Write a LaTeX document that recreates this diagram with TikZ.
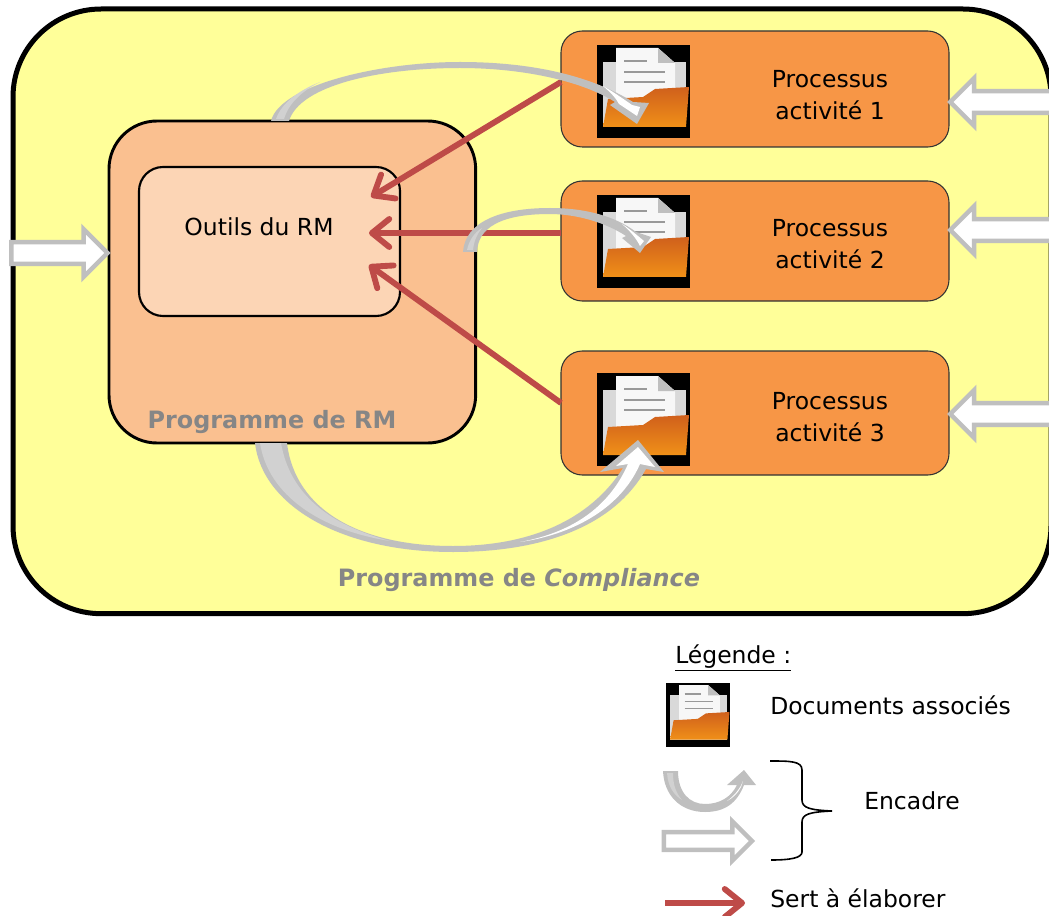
\documentclass[tikz,border=0pt]{standalone}
\usepackage{fontspec}
\setmainfont{DejaVu Sans}
\usepackage{tikz}
\usetikzlibrary{arrows.meta,shapes.arrows}

\definecolor{RMgray}{HTML}{BFBFBF}
\definecolor{RMred}{HTML}{BE4B48}
\definecolor{RMtext}{HTML}{868686}
\definecolor{RMyellow}{HTML}{FFFF99}
\definecolor{progfill}{HTML}{FAC090}
\definecolor{toolfill}{HTML}{FCD5B5}
\definecolor{procorange}{HTML}{F79646}
\definecolor{procfold}{HTML}{D0601C}
\definecolor{procfoldb}{HTML}{F09018}

\tikzset{
  outerbox/.style={draw=black, line width=3.75pt, fill=RMyellow, rounded corners=66pt, outer sep=0pt},
  progbox/.style={draw=black, line width=2.2pt, fill=progfill, rounded corners=36pt, outer sep=0pt},
  toolbox/.style={draw=black, line width=1.6pt, fill=toolfill, rounded corners=18pt, outer sep=0pt},
  procbox/.style={draw=black!80, line width=0.8pt, fill=procorange, rounded corners=16pt, outer sep=0pt},
  redline/.style={draw=RMred, line width=4.4pt, -{Straight Barb[length=13pt,width=21pt,round]}},
  blockarrow/.style={single arrow, draw=RMgray, fill=white, line width=3.4pt, inner xsep=0pt, inner ysep=6.5pt,
    single arrow head extend=9.75pt, minimum height=72pt},
  txt/.style={font=\fontsize{17.6}{24}\selectfont, align=center, inner sep=0pt},
  boldtxt/.style={font=\fontsize{17.9}{24}\selectfont\bfseries, text=RMtext, inner sep=0pt},
  folder/.pic={
    \fill[black] (0,0) rectangle (93,93);
    \fill[black!15] (6,17) -- (89,17) -- (89,82) -- (6,82) -- cycle;
    \fill[black!3] (19,3) -- (61,3) -- (78,18) -- (78,64) -- (19,64) -- cycle;
    \fill[black!25] (61,3) -- (78,18) -- (61,18) -- cycle;
    \draw[black!40, line width=1pt] (27,16) -- (50,16) (27,27) -- (68,27) (27,37) -- (68,37);
    \shade[top color=procfold, bottom color=procfoldb] (92,42) -- (58,44) -- (46,52) -- (11,54) -- (6,82) -- (89,82) -- cycle;
  }
}

\begin{document}
\begin{tikzpicture}[x=0.75pt, y=-0.75pt]

  \useasboundingbox (0,0) rectangle (1049,916);

  \node[outerbox, minimum width=778.5pt, minimum height=453.5pt, anchor=north west] (compliance) at (13,9) {};
  \node[progbox, minimum width=275pt, minimum height=241.5pt, anchor=north west] (programme) at (109,121) {};
  \node[toolbox, minimum width=195.75pt, minimum height=111.75pt, anchor=north west] (outils) at (139,167) {};

  \node[procbox, minimum width=291pt, minimum height=87pt, anchor=north west] (proc1) at (561,31) {};
  \node[procbox, minimum width=291pt, minimum height=90pt, anchor=north west] (proc2) at (561,181) {};
  \node[procbox, minimum width=291pt, minimum height=93pt, anchor=north west] (proc3) at (561,351) {};

  \pic at (597,45) {folder};
  \pic at (597,195) {folder};
  \pic at (597,373) {folder};

  \node[txt] (txtoutils) at (259,227) {Outils du RM};
  \node[txt] (txt1) at (830,95) {Processus\\activité 1};
  \node[txt] (txt2) at (830,244) {Processus\\activité 2};
  \node[txt] (txt3) at (830,417) {Processus\\activité 3};
  \node[boldtxt] (txtprog) at (272,422) {Programme de RM};
  \node[boldtxt] (txtcomp) at (519,580) {Programme de \textit{Compliance}};

  \coordinate (to1) at (371,197);
  \coordinate (to2) at (369,233);
  \coordinate (to3) at (369,265);
  \draw[redline] ([yshift=5.25pt]proc1.west) -- (to1); % 1
  \draw[redline] ([yshift=6pt]proc2.west) -- (to2); % 2
  \draw[redline] ([yshift=7.5pt]proc3.west) -- (to3); % 3

  % entrants
  \node[blockarrow] (inprog) at (54,253) {};
  \node[blockarrow, minimum height=80pt, shape border rotate=180] (in1) at (1009,102) {};
  \node[blockarrow, minimum height=80pt, shape border rotate=180] (in2) at (1009,230) {};
  \node[blockarrow, minimum height=80pt, shape border rotate=180] (in3) at (1009,414) {};

  % vers dossier 1
  \fill[RMgray] (271,121) .. controls (280,85) and (380,62) .. (460,62)
    .. controls (530,62) and (590,75) .. (633,102) -- (649,103) -- (637,124) -- (610,105) -- (615,102)
    .. controls (580,80) and (520,68) .. (460,68) .. controls (380,68) and (300,85) .. (289,121) -- cycle;
  \fill[black!18] (276,119) .. controls (282,102) and (300,90) .. (320,82) .. controls (300,92) and (288,105) .. (284,119) -- cycle;
  \fill[white] (603,86) .. controls (612,91) and (622,98) .. (632,105) -- (640,107) -- (637,116) -- (619,104) .. controls (616,98) and (610,92) .. cycle;

  % vers dossier 2
  \fill[RMgray] (463,252) .. controls (465,222) and (500,208) .. (550,208)
    .. controls (585,208) and (615,216) .. (636,232) -- (651,237) -- (640,253) -- (622,238) -- (626,236)
    .. controls (605,222) and (575,214) .. (550,214) .. controls (500,214) and (478,228) .. (477,252) -- cycle;
  \fill[black!18] (467,250) .. controls (469,240) and (475,232) .. (482,228) .. controls (477,234) and (474,241) .. (473,250) -- cycle;
  \fill[white] (622,224) .. controls (630,229) and (638,236) .. (644,241) -- (640,246) .. controls (636,238) and (630,231) .. cycle;

  % vers dossier 3
  \fill[RMgray] (255,443) .. controls (262,505) and (340,552) .. (453,552)
    .. controls (545,552) and (615,525) .. (646,469) -- (664,472) -- (638,440) -- (600,472) -- (623,468)
    .. controls (590,520) and (530,546) .. (453,546) .. controls (360,546) and (295,510) .. (287,443) -- cycle;
  \fill[black!18] (260,443) .. controls (268,495) and (320,530) .. (390,541) .. controls (330,525) and (290,495) .. (281,443) -- cycle;
  \fill[white] (520,542) .. controls (575,532) and (610,505) .. (628,464) -- (616,466) -- (638,447) -- (655,467) -- (640,464) .. controls (620,510) and (570,535) .. (520,542) -- cycle;

  % Légende
  \node[txt, anchor=west] (txtleg) at (675,658) {\underline{Légende :}};
  \pic[scale=0.69] at (666,683) {folder};
  \node[txt, anchor=west] (txtdoc) at (770,705) {Documents associés};
  \node[txt, anchor=west] (txtenc) at (864,801) {Encadre};
  \node[txt, anchor=west] (txtela) at (770,898) {Sert à élaborer};

  \fill[RMgray] (663,771) .. controls (664,795) and (680,812) .. (705,812)
    .. controls (725,812) and (737,803) .. (744,785) -- (756,785) -- (744,770) -- (727,785) -- (737,785)
    .. controls (731,797) and (720,804) .. (705,804) .. controls (690,804) and (678,793) .. (678,771) -- cycle;
  \fill[black!18] (667,773) .. controls (668,787) and (674,795) .. (682,800) .. controls (676,793) and (673,785) .. (673,773) -- cycle;
  \fill[white] (727,801) .. controls (734,796) and (740,789) .. (743,781) -- (741,787) .. controls (738,793) and (733,798) .. cycle;

  \node[blockarrow, minimum height=66pt, inner ysep=5pt, single arrow head extend=8pt] (inleg) at (703.5,841) {};

  \draw[line width=1.2pt] (770,761) .. controls (790,761) and (802,761) .. (802,770) -- (802,800)
    .. controls (802,808) and (810,810) .. (832,811) .. controls (810,812) and (802,814) .. (802,822) -- (802,852)
    .. controls (802,858) and (790,860) .. (771,860);

  \coordinate (legfrom) at (665,903);
  \coordinate (legto) at (745,903);
  \draw[redline] (legfrom) -- (legto);
\end{tikzpicture}
\end{document}
